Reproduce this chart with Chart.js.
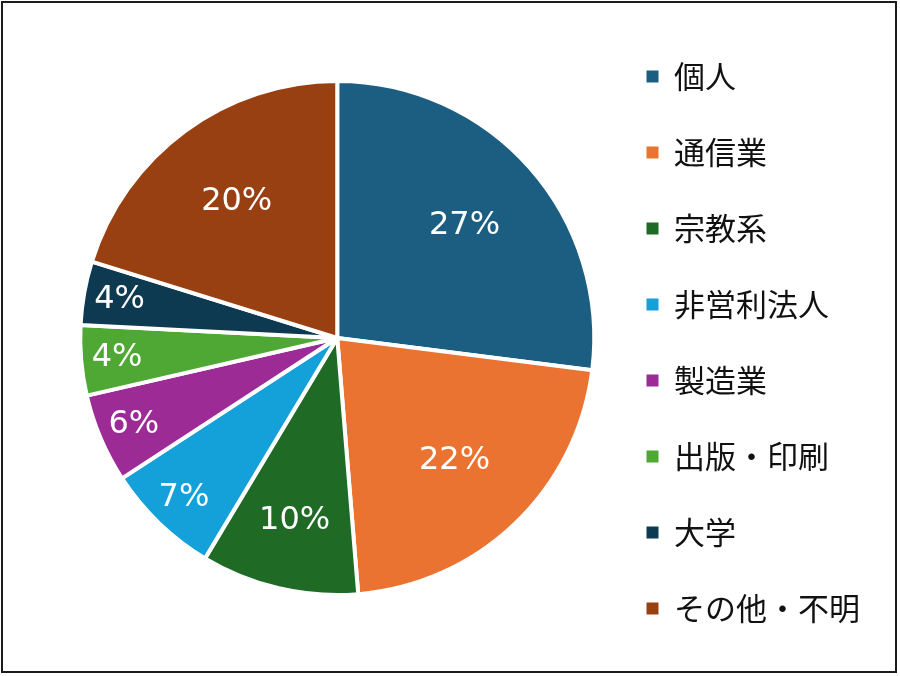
<!DOCTYPE html>
<html lang="ja">
<head>
<meta charset="UTF-8">
<title>Pie chart</title>
<script src="https://cdn.jsdelivr.net/npm/chart.js"></script>
<style>
   html, body { margin: 0; padding: 0; background: #fff; }
   #wrap { position: relative; width: 900px; height: 676px; }
   #frame { position: absolute; left: 1px; top: 1px; width: 896px; height: 672px;
            box-sizing: border-box; border: 2px solid #1c1c1c; pointer-events: none; }
   canvas { position: absolute; left: 0; top: 0; }
</style>
</head>
<body>
<div id="wrap">
<canvas id="pieChart" width="900" height="676"></canvas>
<div id="frame"></div>
</div>
<script>
// categories and shares (percent)
const categories = ['個人', '通信業', '宗教系', '非営利法人', '製造業', '出版・印刷', '大学', 'その他・不明'];
const shares = [27.0, 21.7, 9.9, 7.2, 5.6, 4.4, 4.0, 20.2];
const sliceColors = ['#1b5e82', '#eb7331', '#1f6b26', '#14a0d9', '#9d2b95', '#4fa834', '#0e3a51', '#984012'];

// draws the white percent labels inside each slice
const percentLabels = {
   id: 'percentLabels',
   afterDatasetsDraw(chart) {
      const ctx = chart.ctx;
      const meta = chart.getDatasetMeta(0);
      const total = shares.reduce((a, b) => a + b, 0);
      ctx.save();
      ctx.fillStyle = '#ffffff';
      ctx.font = '32px "DejaVu Sans", Verdana, sans-serif';
      ctx.textAlign = 'center';
      ctx.textBaseline = 'middle';
      meta.data.forEach((arc, i) => {
         const pct = shares[i] / total * 100;
         // small slices get their label pushed out toward the rim
         const k = pct >= 15 ? 0.66 : pct >= 8 ? 0.73 : 0.86;
         const mid = (arc.startAngle + arc.endAngle) / 2;
         const x = arc.x + Math.cos(mid) * arc.outerRadius * k;
         const y = arc.y + Math.sin(mid) * arc.outerRadius * k;
         ctx.fillText(Math.round(pct) + '%', x, y);
      });
      ctx.restore();
   }
};

new Chart(document.getElementById('pieChart').getContext('2d'), {
   type: 'pie',
   data: {
      labels: categories,
      datasets: [{
         data: shares,
         backgroundColor: sliceColors,
         borderColor: '#ffffff',
         borderWidth: 4
      }]
   },
   options: {
      responsive: false,
      animation: false,
      radius: 257,
      layout: { padding: { left: 73, right: 30, top: 0, bottom: 0 } },
      plugins: {
         tooltip: { enabled: false },
         legend: {
            position: 'right',
            title: { display: true, text: ' ', font: { size: 1 }, padding: 4 },
            labels: {
               boxWidth: 12,
               boxHeight: 12,
               padding: 45,
               color: '#111111',
               font: { size: 31, family: '"Noto Sans CJK JP", sans-serif' },
               generateLabels(chart) {
                  const items = Chart.overrides.pie.plugins.legend.labels.generateLabels(chart);
                  items.forEach(it => { it.lineWidth = 0; it.strokeStyle = it.fillStyle; });
                  return items;
               }
            }
         }
      }
   },
   plugins: [percentLabels]
});
</script>
</body>
</html>
